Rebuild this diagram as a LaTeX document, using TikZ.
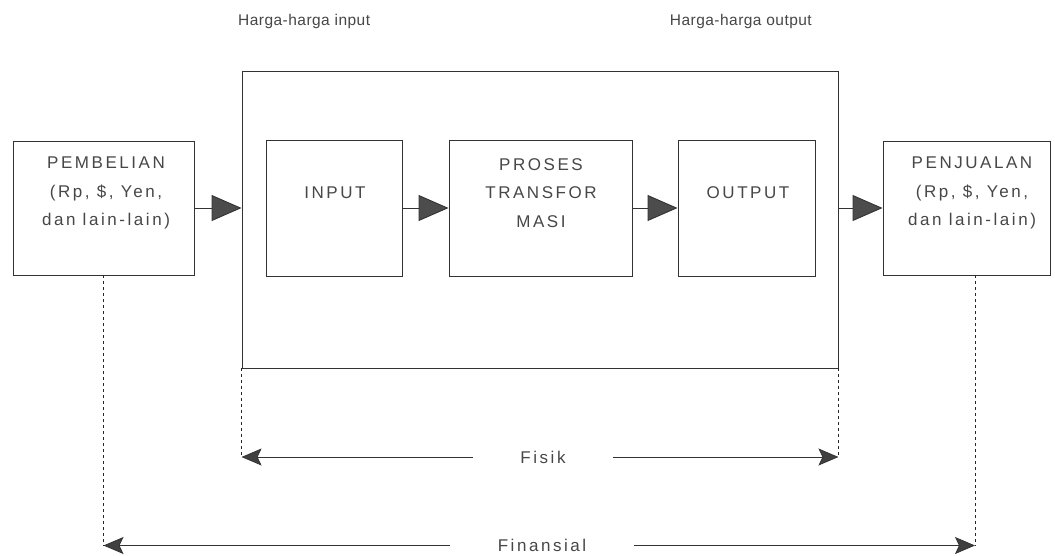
\documentclass[tikz,border=0pt]{standalone}
\usepackage{fontspec}
\setmainfont{Liberation Sans}[LetterSpace=15]
\usetikzlibrary{arrows.meta}
\begin{document}
\begin{tikzpicture}[x=1pt,y=-1pt,
  ln/.style={draw=black!80, line width=0.9pt},
  box/.style={ln, rectangle, inner sep=0pt},
  lbl/.style={text=black!72, font=\fontsize{17}{28.5}\selectfont, align=center, inner sep=0pt},
  top/.style={text=black!72, font=\fontsize{15.5}{18}\selectfont\addfontfeature{LetterSpace=3}, inner sep=0pt},
  flow/.style={line width=0.9pt, draw=black!80, -{Triangle[length=30pt,width=26pt,fill=black!70]}},
  meas/.style={line width=0.8pt, draw=black!80, -{Stealth[length=20pt,width=17pt,inset=4pt,fill=black!75]}},
  dotline/.style={draw=black!85, line width=1pt, dash pattern=on 2.5pt off 3.5pt}
]
\fill[white] (0,0) rectangle (1055,555);
\useasboundingbox (0,0) rectangle (1055,555);

% boxes
\node[box, minimum width=181pt, minimum height=134pt] (pemb) at (103.5,208) {};
\node[box, minimum width=596pt, minimum height=297pt] (big) at (540,219.5) {};
\node[box, minimum width=136pt, minimum height=136pt] (inp) at (334,208) {};
\node[box, minimum width=183pt, minimum height=136pt] (proc) at (540.5,208) {};
\node[box, minimum width=137pt, minimum height=136pt] (outp) at (746.5,208) {};
\node[box, minimum width=167pt, minimum height=134pt] (penj) at (966.5,208) {};

% texts
\node[lbl] (tpemb) at (106,193) {PEMBELIAN\\(Rp, \$, Yen,\\dan lain-lain)};
\node[lbl] (tinp) at (335,193) {INPUT};
\node[lbl] (tproc) at (541,193) {PROSES\\TRANSFOR\\MASI};
\node[lbl] (toutp) at (748,193) {OUTPUT};
\node[lbl] (tpenj) at (972,193) {PENJUALAN\\(Rp, \$, Yen,\\dan lain-lain)};
\node[top, anchor=west] (hin) at (238,21) {Harga-harga input};
\node[top, anchor=east] (hout) at (812,21) {Harga-harga output};

% flow arrows
\draw[flow] (pemb.east) -- (pemb.east -| big.west);
\draw[flow] (inp) -- (proc);
\draw[flow] (proc) -- (outp);
\draw[flow] (big.east |- penj.west) -- (penj.west);

% Fisik
\node[lbl, inner xsep=47pt] (fisik) at (543,457) {Fisik};
\coordinate (fl) at (big.south west |- fisik.center);
\coordinate (fr) at (big.south east |- fisik.center);
\draw[dotline] (big.south west) -- (fl);
\draw[dotline] (big.south east) -- (fr);
\draw[meas] (fisik.west) -- (fl);
\draw[meas] (fisik.east) -- (fr);

% Finansial
\node[lbl, inner xsep=48pt] (fin) at (542,545.5) {Finansial};
\coordinate (nl) at (pemb.south |- fin.center);
\coordinate (nr) at (975,545.5);
\draw[dotline] (pemb.south) -- (nl);
\draw[dotline] (penj.south -| nr) -- (nr);
\draw[meas] (fin.west) -- (nl);
\draw[meas] (fin.east) -- (nr);
\end{tikzpicture}
\end{document}
